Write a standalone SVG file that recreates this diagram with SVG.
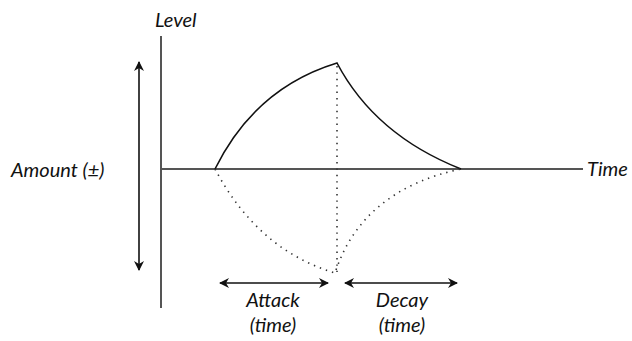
<svg xmlns="http://www.w3.org/2000/svg" width="632" height="341" viewBox="0 0 632 341">
<style>
text{font-family:Lato,"Open Sans","DejaVu Sans",sans-serif;font-style:italic;font-size:20px;fill:#111}
.axis{stroke:#555;stroke-width:2;fill:none}
.curve{stroke:#111;stroke-width:1.6;fill:none}
.dot{stroke:#333;stroke-width:1.6;fill:none;stroke-dasharray:1.4 5}
.arr{stroke:#111;stroke-width:1.6;fill:none;marker-start:url(#ah);marker-end:url(#ah)}
</style>
<defs>
<marker id="ah" viewBox="0 0 10 10" refX="9" refY="5" markerWidth="10" markerHeight="10" markerUnits="userSpaceOnUse" orient="auto-start-reverse">
<path d="M0,0 L10,5 L0,10 L3,5 Z" fill="#111"/>
</marker>
</defs>
<rect width="632" height="341" fill="#fff"/>
<g id="axes">
<line class="axis" x1="161" y1="36" x2="161" y2="308"/>
<line class="axis" x1="161" y1="169" x2="583" y2="169"/>
</g>
<g id="labels">
<text x="155" y="27">Level</text>
<text x="587" y="176">Time</text>
<text x="11" y="177">Amount (±)</text>
<text x="273" y="307" text-anchor="middle">Attack</text>
<text x="273" y="332" text-anchor="middle">(time)</text>
<text x="402" y="307" text-anchor="middle">Decay</text>
<text x="402" y="332" text-anchor="middle">(time)</text>
</g>
<g id="envelope">
<path class="curve" d="M215,169 Q255,88 337,63 Q375,135 461,169"/>
<path class="dot" d="M215,169 Q258,250 335,273 Q362,190 461,169"/>
<line class="dot" x1="337" y1="66" x2="337" y2="272"/>
</g>
<g id="connectors">
<line class="arr" x1="139" y1="62" x2="139" y2="270"/>
<line class="arr" x1="220" y1="283" x2="328" y2="283"/>
<line class="arr" x1="345" y1="283" x2="457" y2="283"/>
</g>
</svg>
